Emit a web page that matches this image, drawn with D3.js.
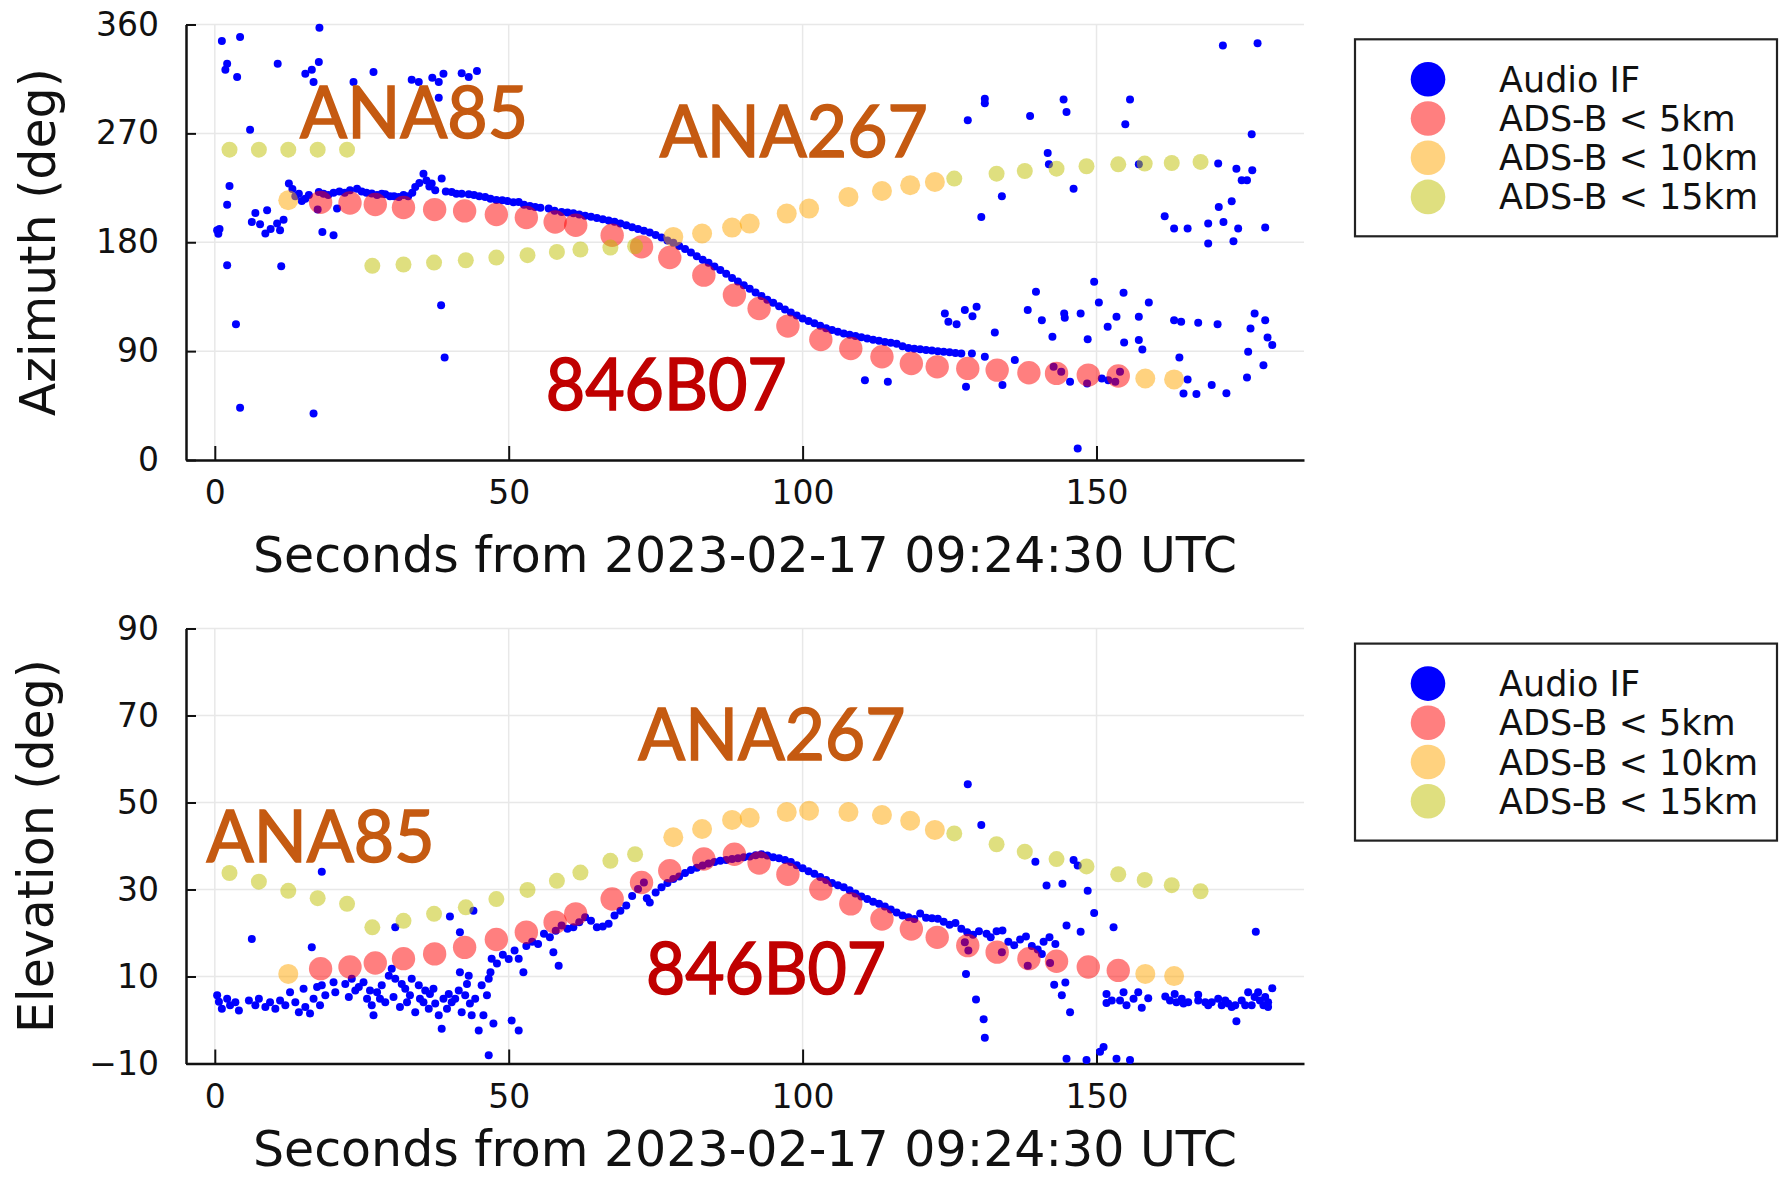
<!DOCTYPE html>
<html><head><meta charset="utf-8">
<script src="https://cdn.jsdelivr.net/npm/d3@7"></script>
<style>body{margin:0;background:#fff} svg{display:block}</style>
</head><body><svg id="c" width="1780" height="1179"></svg>
<script>
// ---------- data ----------
const xTicks = [0, 50, 100, 150];
const azTicks = [0, 90, 180, 270, 360];
const elTicks = [-10, 10, 30, 50, 70, 90];
const xTitle = "Seconds from 2023-02-17 09:24:30 UTC";
const legendLabels = ["Audio IF", "ADS-B < 5km", "ADS-B < 10km", "ADS-B < 15km"];
const seriesColors = ["#0000ff", "rgba(255,0,0,0.5)", "rgba(255,165,0,0.5)", "rgba(192,192,0,0.5)"];

// Audio IF azimuth [t, deg]
const audioAz = [[0.4,190],[0.6,187],[0.8,191],[1.2,346.3],[1.8,322.6],[2.1,327.6],[2.1,211.1],[2.1,161],[2.5,226.5],[3.6,112.3],[3.8,316.5],[4.3,349.6],[4.3,43.2],[6,273],[6.3,196.8],[6.9,204.2],[7.7,194.9],[8.6,187.2],[8.9,206.4],[9.5,191],[10.6,195.4],[10.7,327.6],[11.1,189.9],[11.3,160.2],[11.7,198.7],[12.6,228.5],[13.2,224],[13.7,218],[14.3,220],[14.8,214],[15.4,319.3],[15.4,216],[16,219],[16.5,322.6],[16.8,312.4],[16.8,38.5],[17.5,207],[17.7,328.9],[17.7,221.6],[17.8,357.3],[18.3,188.5],[18.5,220],[19.3,219],[20.2,185.8],[20.2,221],[20.8,207.8],[21.2,222],[22.1,221],[23,223],[23.6,312.4],[24.2,224.3],[25,222],[25.8,221],[26.7,220.2],[27,320.7],[27.6,219],[28.4,220],[29,219.6],[29.8,218],[30.5,218],[31.3,217.5],[32.1,219],[32.9,218],[33.5,314.3],[33.6,221],[34.1,225.7],[34.7,312.4],[34.8,229],[35.5,236.7],[36,231],[36.5,226],[36.9,228.5],[37,316],[37.5,223],[38.1,312.4],[38.1,299.5],[38.5,128],[38.6,232.6],[38.9,319.3],[39.1,84.8],[39.3,222],[40.3,221.6],[41.1,220],[42,319.8],[42,220],[43.2,316.5],[43.2,219.6],[44.1,219],[44.6,321.5],[45,218],[46,217.5],[46.9,216],[47.9,215],[48.9,214.7],[49.8,214],[50.8,213],[51.7,213.3],[52.6,211],[53.6,210],[54.5,209.2],[55.4,208.5],[56.8,207.8],[57.8,206],[59,205],[60,204.5],[61,204],[62,203],[63,202],[64,201],[65,200],[66,199],[67,198],[68,197],[69,195.5],[70,194],[71,192.5],[72,191],[73,189.5],[74,188],[75,186],[76,184],[77,181.5],[78,179.5],[79,177],[80,174.5],[81,171.5],[82,168.5],[83,165.5],[84,163],[85,160],[86,157],[87,154],[88,150.5],[89,147.5],[90,144.5],[91,141.5],[92,138.5],[93,135.5],[94,132.5],[95,130],[96,127],[97,124.5],[98,122],[99,119.5],[100,117],[101,115],[102,113],[103,111],[104,109],[105,107.5],[106,106],[107,104.5],[108,103.5],[109,102.5],[110,101.5],[110.6,66],[111,100.5],[112,99.5],[113,98.5],[114,97.5],[114.5,64.7],[115,97],[116,96],[117,94],[118,92.5],[119,92],[120,91.5],[121,91],[122,90.5],[123,90],[124,89.5],[124.2,121.1],[124.8,114.2],[125,89],[126,88.5],[126.2,112.3],[127,88],[127.6,123.9],[127.8,60.6],[128.1,280.8],[128.8,88],[128.9,118.9],[129.6,126.6],[130.4,200.9],[131,298.6],[131,295],[131,85.3],[132.7,105.4],[133.9,218],[134,61.9],[136.1,82.6],[138.3,123.9],[138.7,284.3],[139.7,139],[140.7,115.6],[141.7,253.8],[141.9,244.4],[142.5,101.8],[142.7,77],[144,73],[144.4,298.1],[144.5,121.1],[144.6,117.5],[144.9,287.6],[145.5,64.7],[146.1,224.3],[146.8,9.6],[147.3,121.1],[148.4,63.3],[148.5,99.9],[149.6,147.3],[150.4,130.2],[150.9,67.4],[151.9,110.1],[152,66],[153.2,64.7],[153.4,118.4],[154,73],[154.6,138.2],[154.7,97.2],[154.9,277.5],[155.7,298.1],[157.2,244.4],[157.2,99.1],[157.2,118.4],[157.8,91.4],[158.9,130.2],[161.6,201.5],[163.2,191.3],[163.2,115.6],[164.1,84.8],[164.4,114.2],[164.8,55],[165.5,191.3],[165.5,66.6],[167,54.5],[167.3,113.4],[169,195.4],[169,178.9],[169.6,61.9],[170.6,112.3],[170.7,245],[170.8,209.2],[171.5,342.7],[171.6,196.8],[172.1,55.1],[173,213.9],[173.3,180.8],[173.8,240.8],[174.1,191.3],[174.7,231.2],[175.6,231.2],[175.6,68.3],[175.8,89.5],[176.2,108.7],[176.4,269.2],[176.5,239.5],[176.9,121.1],[177.4,344.6],[178.4,78.4],[178.7,192.1],[178.7,115.6],[179.1,101.3],[179.9,95]];

// Audio IF elevation [t, deg]
const audioEl = [[0.4,5.7],[0.7,4.2],[1.2,2.6],[2.1,4.9],[2.6,3.4],[3.5,4.1],[4.1,2.2],[5.8,4.5],[6.3,18.6],[6.9,3.4],[7.5,4.9],[8.6,3],[9.4,4.1],[10.3,2.6],[11.1,4.5],[12,3.4],[12.8,6.4],[13.7,4.1],[14.3,1.8],[15.1,7.2],[15.4,3],[16.2,1.5],[16.5,16.7],[16.8,4.9],[17.4,7.6],[17.9,3.4],[18.2,8],[18.2,34.1],[18.8,5.7],[20.2,8.7],[20.5,6.4],[22.2,8.3],[22.8,5.3],[23.3,9.5],[23.9,6.8],[24.5,7.6],[25.3,8.7],[25.9,4.9],[26.4,6.8],[26.7,3.4],[27,1.1],[27.6,6.4],[28.1,4.9],[28.4,8],[29,4.1],[29.6,10.2],[30.1,11.8],[30.4,5.3],[30.7,9.5],[30.7,21.3],[31.5,3],[31.8,8.3],[32.4,7.2],[32.7,4.1],[33.2,5.7],[33.5,9.5],[34.1,1.8],[34.7,8],[34.9,4.9],[35.5,4.1],[35.8,6.8],[36.4,2.6],[36.6,6],[37.2,7.2],[37.5,3.8],[38.1,1.1],[38.6,-2],[38.9,4.9],[39.5,2.6],[39.8,6],[40,23.8],[40.3,4.1],[40.9,4.9],[41.5,6.8],[41.7,11],[41.7,20.2],[42,1.8],[42.6,5.7],[42.9,8.3],[43.2,10.2],[43.4,3.8],[43.7,1.1],[44,25.1],[44.3,4.9],[44.9,-2.4],[45.4,8],[45.7,1.1],[46.3,5.7],[46.6,9.5],[46.6,-8.1],[46.9,11],[47.1,14.1],[47.4,-0.8],[48,13],[49,15],[50,14],[50.5,-0.1],[51,16],[51.7,-2.4],[51.7,14.1],[52.5,11],[53,17],[54,18],[55,17.5],[56,19.8],[57,19],[57.6,15.6],[58,20.5],[58.5,12.5],[59,21.7],[60,21],[61,21.3],[62,22.5],[63,23.6],[64,22.8],[65,21.3],[66,21.5],[67,22.1],[68,24],[69,25.1],[70,26.3],[71,28.5],[72,30.1],[73,31.6],[73.5,28],[74,27],[75,29.3],[76,30.5],[77,31.5],[78,32.4],[79,33],[80,33.8],[81,34.5],[82,35],[83,35.5],[84,36],[85,36.3],[86,36.6],[87,36.8],[88,37],[89,37.2],[90,37.4],[91,37.6],[92,37.9],[93,38.1],[94,37.8],[95,37.4],[96,37.2],[97,36.8],[98,36.3],[99,35.6],[100,34.9],[101,34.2],[102,33.6],[103,32.9],[104,32.2],[105,31.5],[106,31],[107,30.5],[108,29.8],[109,29.1],[110,28.4],[111,27.8],[112,27.2],[113,26.7],[114,26.1],[115,25.4],[116,24.7],[117,24],[118,23.6],[119,23.2],[120,24.5],[121,23.5],[122,23.4],[123,23.3],[124,22.6],[125,21.9],[126,22.3],[127,21],[127.6,17.9],[127.8,10.6],[128,20.2],[128.1,54.2],[128.2,16],[129,19.6],[129.5,4.7],[130,20.4],[130.4,44.8],[130.8,0.2],[131,-4.1],[131.3,19.8],[132,19],[133,20.4],[133.9,15.6],[134,20.6],[135,18],[136,17.2],[137,18.5],[138,19.2],[138.3,12.5],[139,17],[139.6,36.4],[140,16.2],[140.7,15.2],[141,18],[141.5,30.9],[142,19],[142.1,13.1],[142.8,8.1],[143,17.5],[144.1,5.7],[144.2,31.3],[144.7,8.6],[144.9,21.7],[144.9,-8.9],[145.5,1.8],[146.1,36.8],[146.8,35.5],[147.3,20.3],[148.3,-9.2],[148.5,29.7],[149.6,24.6],[150.6,-7.3],[151.2,-6.2],[151.7,6],[151.7,3.9],[152.6,4.5],[152.9,21.3],[153.4,-8.9],[154,4.5],[154.6,6.4],[155.1,3.4],[155.7,-9.2],[156.3,4.9],[157.1,6.4],[157.7,2.8],[158.8,5],[161.7,5.4],[162.5,4.5],[163.3,6],[163.6,4.1],[164.5,4.9],[164.8,3.8],[165.6,4.1],[167.3,5.8],[167.3,4.5],[168.5,4.1],[169,3.4],[169.6,4.1],[170.7,4.9],[171.3,3.4],[171.9,4.5],[172.4,3.8],[173,3],[173.6,3.4],[173.8,-0.3],[174.7,4.5],[175.3,3.4],[175.8,6.4],[176.4,3.4],[176.9,5.3],[177.1,20.3],[177.5,6.4],[177.8,4.5],[178.4,3.4],[178.7,5.3],[179.2,3],[179.2,4.1],[179.9,7.3]];

// ADS-B < 5 km (846B07)
const adsb5T  = [18,23,27.3,32.1,37.4,42.5,47.9,53,57.9,61.4,67.6,72.6,77.4,83.2,88.4,92.6,97.5,103.1,108.2,113.5,118.5,122.9,128.1,133.1,138.5,143.2,148.6,153.7];
const adsb5Az = [213,212.5,211.2,208.7,207,205.9,202.9,200.4,196.8,194,185.8,176.2,167.4,152.8,136.3,125.2,110.7,99.6,92.2,85.3,79.8,77,75.7,74.3,72.1,71.6,70.2,69.4];
const adsb5El = [11.8,12.2,13.1,14.1,15.2,16.7,18.5,20.2,22.5,24.4,27.8,31.6,34.3,37,38.1,36.1,33.5,30.1,26.7,23.2,20.9,19,17.1,15.6,14.1,13.5,12.2,11.4];

// ADS-B < 10 km (846B07 ends, ANA267 middle)
const adsb10T  = [12.5,78,82.9,88,91,97.3,101.1,107.8,113.5,118.3,122.5,158.3,163.2];
const adsb10Az = [214.7,184.4,187.2,192.1,195.4,203.7,207.8,217.5,222.4,227.1,229.8,67.4,66.6];
const adsb10El = [10.6,42,43.9,46,46.5,47.8,48.1,47.8,47.1,45.8,43.7,10.6,10.1];

// ADS-B < 15 km (ANA85, ANA267)
const adsb15T  = [2.5,7.5,12.5,17.5,22.5,26.8,32.1,37.3,42.7,47.9,53.2,58.2,62.2,67.3,71.5,125.8,133,137.8,143.2,148.3,153.7,158.2,162.8,167.7];
const adsb15Az = [256.5,256.5,256.5,256.5,256.5,160.5,161.6,163.2,165.1,167.3,169.3,172,174,175.6,176.7,232.6,236.7,238.9,240.8,242.8,244.4,245,245.5,246.4];
const adsb15El = [33.8,31.8,29.7,28,26.7,21.3,22.8,24.4,25.9,27.8,29.9,32,33.9,36.6,38.1,42.9,40.4,38.7,37,35.3,33.5,32.2,31,29.6];

// flight labels: text, t, value (left/baseline in data units)
const azNotes = [["ANA85",14.5,265.9,"#C55A11",228],["ANA267",75.7,250.7,"#C55A11",268],["846B07",56.3,41.3,"#C00000",241]];
const elNotes = [["ANA85",-1.4,36.25,"#C55A11",228],["ANA267",72.05,59.77,"#C55A11",267],["846B07",73.36,5.9,"#C00000",240]];

// ---------- drawing ----------
const svg = d3.select("#c");
const FONT = "DejaVu Sans";
const x = d3.scaleLinear().domain([-4.9, 185.3]).range([186, 1304]);
const L = 186, R = 1304;

function panel(cfg) {
  const y = d3.scaleLinear().domain(cfg.domain).range(cfg.range);
  const g = svg.append("g");
  const top = cfg.range[1], bot = cfg.range[0];
  // grid
  g.selectAll(".gx").data(xTicks).join("line")
    .attr("x1", d => x(d)).attr("x2", d => x(d)).attr("y1", top).attr("y2", bot)
    .attr("stroke", "#e8e8e8").attr("stroke-width", 1.5);
  g.selectAll(".gy").data(cfg.ticks).join("line")
    .attr("x1", L).attr("x2", R).attr("y1", d => y(d)).attr("y2", d => y(d))
    .attr("stroke", "#e8e8e8").attr("stroke-width", 1.5);
  // axes
  const ax = g.append("g").attr("transform", `translate(0,${bot})`)
    .call(d3.axisBottom(x).tickValues(xTicks).tickSize(-14).tickSizeOuter(0).tickPadding(21));
  const ay = g.append("g").attr("transform", `translate(${L},0)`)
    .call(d3.axisLeft(y).tickValues(cfg.ticks).tickSize(-10).tickSizeOuter(0).tickPadding(27));
  [ax, ay].forEach(a => {
    a.select(".domain").attr("stroke", "#111").attr("stroke-width", 2.5);
    a.selectAll(".tick line").attr("stroke", "#111").attr("stroke-width", 2);
    a.selectAll(".tick text").attr("font-family", FONT).attr("font-size", 33).attr("fill", "#111");
  });
  // titles
  g.append("text").attr("x", (L + R) / 2).attr("y", cfg.xTitleY).attr("text-anchor", "middle")
    .attr("font-family", FONT).attr("font-size", 49).attr("fill", "#111").text(xTitle);
  g.append("text").attr("transform", `translate(${cfg.yTitleX},${(top + bot) / 2}) rotate(-90)`)
    .attr("text-anchor", "middle").attr("font-family", FONT).attr("font-size", 49).attr("fill", "#111").text(cfg.yTitle);
  // series
  g.selectAll(".a").data(cfg.audio).join("circle")
    .attr("cx", d => x(d[0])).attr("cy", d => y(d[1])).attr("r", 4).attr("fill", seriesColors[0]);
  const sets = [[adsb5T, cfg.s5, 11.7, 1], [adsb10T, cfg.s10, 10, 2], [adsb15T, cfg.s15, 8, 3]];
  sets.forEach(([T, V, r, ci]) => {
    g.selectAll(null).data(T).join("circle")
      .attr("cx", d => x(d)).attr("cy", (d, i) => y(V[i])).attr("r", r).attr("fill", seriesColors[ci]);
  });
  // annotations
  cfg.notes.forEach(n => {
    g.append("text").attr("x", x(n[1])).attr("y", y(n[2])).attr("fill", n[3])
      .attr("stroke", n[3]).attr("stroke-width", 1.6)
      .attr("font-family", "Lato, 'Open Sans', sans-serif").attr("font-size", 71)
      .attr("textLength", n[4]).attr("lengthAdjust", "spacingAndGlyphs").text(n[0]);
  });
  // legend
  const lg = g.append("g").attr("transform", `translate(0,${cfg.legendTop})`);
  lg.append("rect").attr("x", 1355).attr("y", 0).attr("width", 422).attr("height", 197)
    .attr("fill", "#fff").attr("stroke", "#222").attr("stroke-width", 2.2);
  legendLabels.forEach((lab, i) => {
    const cy = 40 + i * 39.2;
    lg.append("circle").attr("cx", 1428).attr("cy", cy).attr("r", 17.3).attr("fill", seriesColors[i]);
    lg.append("text").attr("x", 1499).attr("y", cy + 12.6).attr("font-family", FONT).attr("font-size", 35)
      .attr("fill", "#111").text(lab);
  });
}

panel({domain: [0, 360], range: [460, 24.5], ticks: azTicks, audio: audioAz,
  s5: adsb5Az, s10: adsb10Az, s15: adsb15Az, notes: azNotes, yTitle: "Azimuth (deg)",
  xTitleY: 571.5, yTitleX: 55, legendTop: 39.3});
panel({domain: [-10, 90], range: [1063.5, 628.5], ticks: elTicks, audio: audioEl,
  s5: adsb5El, s10: adsb10El, s15: adsb15El, notes: elNotes, yTitle: "Elevation (deg)",
  xTitleY: 1166, yTitleX: 53, legendTop: 643.6});
</script></body></html>
